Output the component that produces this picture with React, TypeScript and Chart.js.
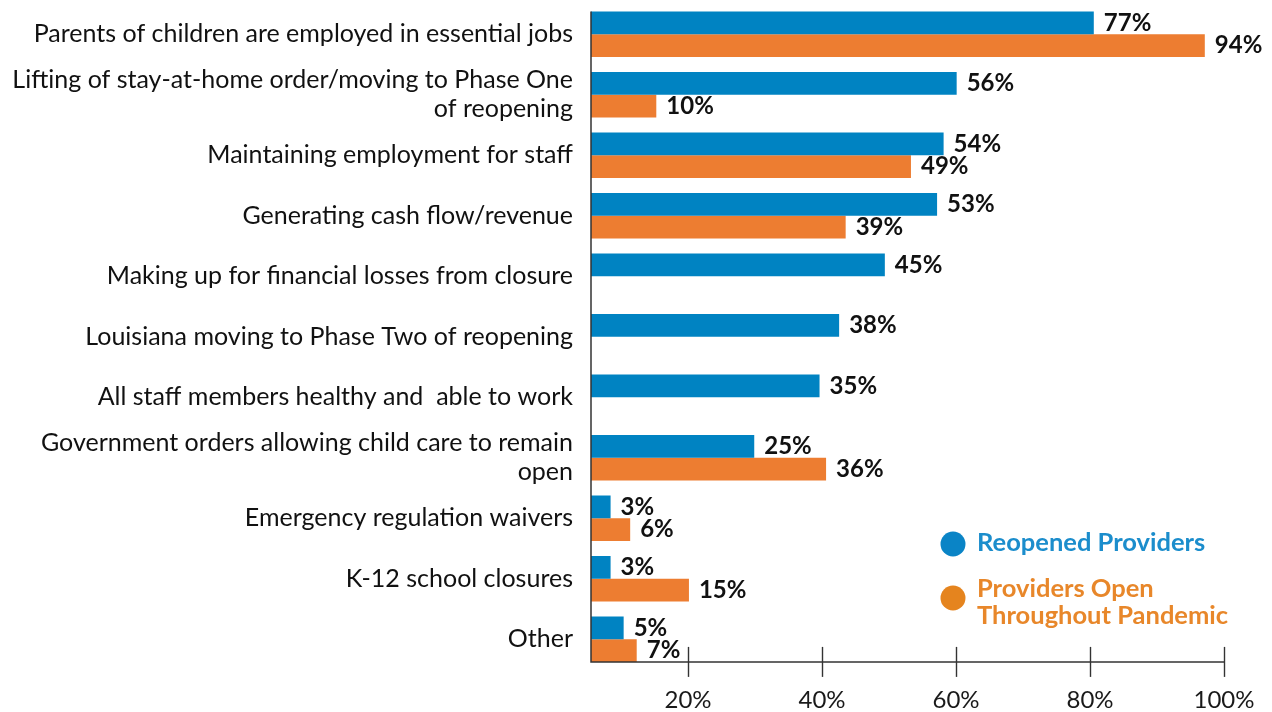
import React, { useEffect, useRef } from "react";
import { Chart, registerables } from "chart.js";

Chart.register(...registerables);

const categories: (string | string[])[] = [
  "Parents of children are employed in essential jobs",
  ["Lifting of stay-at-home order/moving to Phase One", "of reopening"],
  "Maintaining employment for staff",
  "Generating cash flow/revenue",
  "Making up for financial losses from closure",
  "Louisiana moving to Phase Two of reopening",
  "All staff members healthy and  able to work",
  ["Government orders allowing child care to remain", "open"],
  "Emergency regulation waivers",
  "K-12 school closures",
  "Other",
];
const reopened: number[] = [77, 56, 54, 53, 45, 38, 35, 25, 3, 3, 5];
const openThroughout: (number | null)[] = [94, 10, 49, 39, null, null, null, 36, 6, 15, 7];
const tickValues: number[] = [20, 40, 60, 80, 100];
const tickLabels: string[] = ["20%", "40%", "60%", "80%", "100%"];
const seriesNames: string[] = ["Reopened Providers", "Providers Open\nThroughout Pandemic"];

const BLUE = "#0083C2";
const ORANGE = "#ED7D31";
const FONT = "Lato, 'Open Sans', sans-serif";

const overlayPlugin = {
  id: "overlay",
  afterDatasetsDraw(chart: any) {
    const ctx = chart.ctx as CanvasRenderingContext2D;
    const area = chart.chartArea;
    const x2 = chart.scales.x2;
    const m0 = chart.getDatasetMeta(0);
    const m1 = chart.getDatasetMeta(1);
    ctx.save();

    // data labels
    ctx.font = `bold 24px ${FONT}`;
    ctx.fillStyle = "#111111";
    ctx.textBaseline = "middle";
    ctx.textAlign = "left";
    chart.data.datasets.forEach((ds: any, di: number) => {
      const meta = chart.getDatasetMeta(di);
      meta.data.forEach((el: any, i: number) => {
        const v = ds.data[i];
        if (v == null) return;
        ctx.fillText(`${v}%`, el.x + 10, el.y);
      });
    });

    // axis lines
    const lastEl = m1.data[m1.data.length - 1];
    const lineY = lastEl.y + lastEl.height / 2;
    const firstEl = m0.data[0];
    const topY = firstEl.y - firstEl.height / 2;
    const rightX = x2.getPixelForValue(tickValues[tickValues.length - 1]);
    ctx.strokeStyle = "#333333";
    ctx.lineWidth = 1.5;
    ctx.beginPath();
    ctx.moveTo(area.left, topY);
    ctx.lineTo(area.left, lineY);
    ctx.lineTo(rightX, lineY);
    ctx.stroke();
    ctx.lineWidth = 1.4;
    tickValues.forEach((v) => {
      const px = Math.round(x2.getPixelForValue(v)) + 0.5;
      ctx.beginPath();
      ctx.moveTo(px, lineY - 15);
      ctx.lineTo(px, lineY + 15);
      ctx.stroke();
    });

    // legend
    const legendX = 953;
    const items = [
      { y: 544, color: "#0A84C6", text: "#1B8DCC", label: seriesNames[0] },
      { y: 598, color: "#E5841E", text: "#E8872A", label: seriesNames[1] },
    ];
    ctx.font = `bold 25.5px ${FONT}`;
    ctx.textAlign = "left";
    ctx.textBaseline = "middle";
    items.forEach((it) => {
      ctx.fillStyle = it.color;
      ctx.beginPath();
      ctx.arc(legendX, it.y, 12.5, 0, Math.PI * 2);
      ctx.fill();
      ctx.fillStyle = it.text;
      const lines = it.label.split("\n");
      if (lines.length === 1) {
        ctx.fillText(lines[0], legendX + 24, it.y - 1);
      } else {
        ctx.fillText(lines[0], legendX + 24, it.y - 9);
        ctx.fillText(lines[1], legendX + 24, it.y + 18);
      }
    });
    ctx.restore();
  },
};

export default function App() {
  const canvasRef = useRef<HTMLCanvasElement | null>(null);

  useEffect(() => {
    if (!canvasRef.current) return;
    const chart = new Chart(canvasRef.current, {
      type: "bar",
      data: {
        labels: categories,
        datasets: [
          {
            label: seriesNames[0],
            data: reopened,
            backgroundColor: BLUE,
            categoryPercentage: 0.749,
            barPercentage: 1.0,
          },
          {
            label: seriesNames[1],
            data: openThroughout,
            backgroundColor: ORANGE,
            categoryPercentage: 0.749,
            barPercentage: 1.0,
          },
        ],
      },
      options: {
        indexAxis: "y",
        animation: false,
        responsive: true,
        maintainAspectRatio: false,
        layout: { padding: { left: 0, right: 48, top: 4, bottom: 0 } },
        plugins: {
          legend: { display: false },
          tooltip: { enabled: false },
        },
        scales: {
          x: {
            type: "linear",
            min: 0,
            max: 96.94,
            display: false,
          },
          x2: {
            type: "linear",
            axis: "x",
            position: "bottom",
            min: 5.52,
            max: 100,
            grid: { display: false, drawTicks: false },
            border: { display: false },
            afterBuildTicks: (s: any) => {
              s.ticks = tickValues.map((v) => ({ value: v }));
            },
            afterFit: (s: any) => {
              s.height = 42.5;
              s.paddingLeft = 0;
              s.paddingRight = 0;
            },
            ticks: {
              autoSkip: false,
              maxRotation: 0,
              padding: 16,
              color: "#1a1a1a",
              font: { family: FONT, size: 24 },
              callback: (v: any) => {
                const i = tickValues.indexOf(Number(v));
                return i >= 0 ? tickLabels[i] : "";
              },
            },
          },
          y: {
            type: "category",
            position: "left",
            grid: { display: false, drawTicks: false },
            border: { display: false },
            afterFit: (s: any) => {
              s.width = 591;
              s.paddingTop = 0;
              s.paddingBottom = 0;
            },
            ticks: {
              autoSkip: false,
              padding: 18,
              color: "#111111",
              font: { family: FONT, size: 25, lineHeight: 1.15 },
            },
          },
        },
      },
      plugins: [overlayPlugin],
    });
    return () => chart.destroy();
  }, []);

  return (
    <div style={{ position: "fixed", left: 0, top: 0, width: 1272, height: 712, background: "#ffffff" }}>
      <canvas ref={canvasRef} />
    </div>
  );
}
